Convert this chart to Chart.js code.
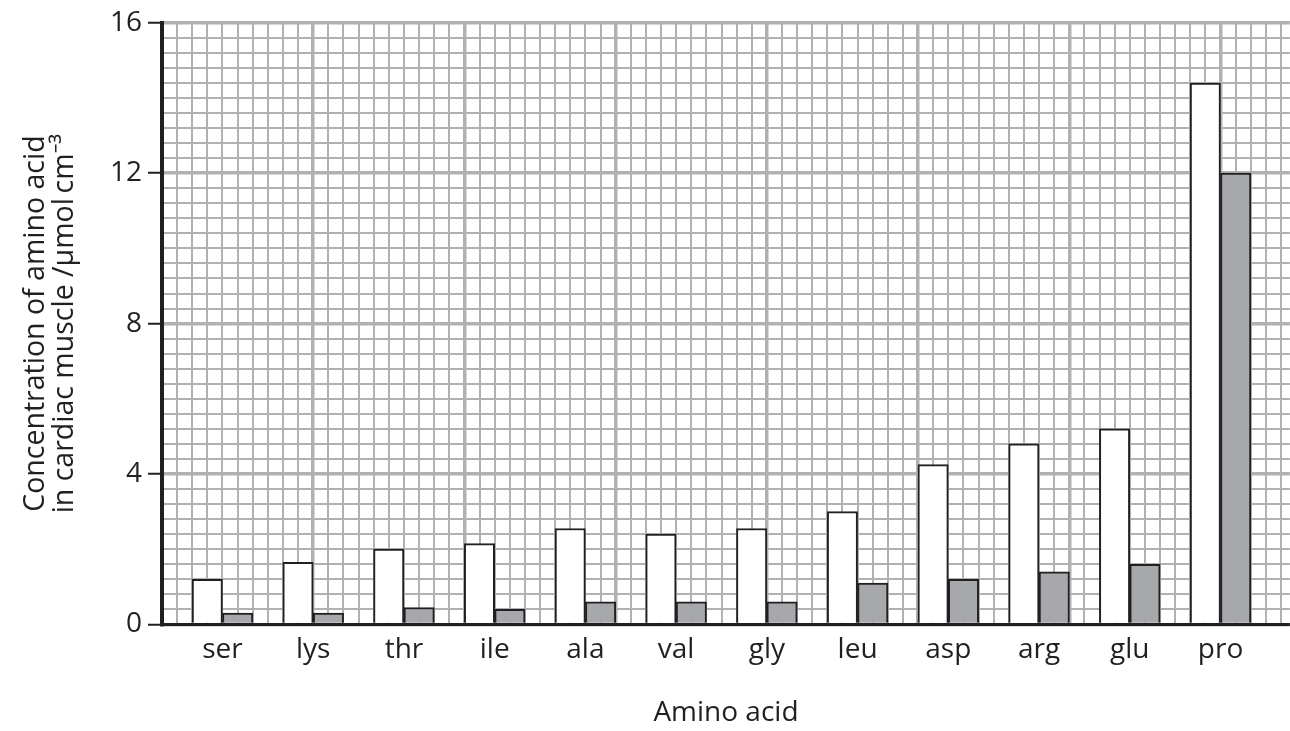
<!DOCTYPE html>
<html>
<head>
<meta charset="utf-8">
<title>Amino acid concentration in cardiac muscle</title>
<script src="https://cdn.jsdelivr.net/npm/chart.js@4/dist/chart.umd.min.js"></script>
<style>
  html, body { margin: 0; padding: 0; background: #ffffff; }
  #wrap { width: 1290px; height: 731px; position: relative; }
</style>
</head>
<body>
<div id="wrap"><canvas id="chart"></canvas></div>
<script>
// Amino acids along the x axis
const categories = ['ser', 'lys', 'thr', 'ile', 'ala', 'val', 'gly', 'leu', 'asp', 'arg', 'glu', 'pro'];

// Concentration / µmol cm⁻³ — open (white) bars
const whiteValues = [1.2, 1.65, 2.0, 2.15, 2.55, 2.4, 2.55, 3.0, 4.25, 4.8, 5.2, 14.4];
// Concentration / µmol cm⁻³ — shaded (grey) bars
const greyValues = [0.3, 0.3, 0.45, 0.4, 0.6, 0.6, 0.6, 1.1, 1.2, 1.4, 1.6, 12.0];

// Labelled values on the y axis
const yTickLabels = ['0', '4', '8', '12', '16'];

// Graph-paper settings: small squares per category step and per major square
const SQUARES_PER_CATEGORY = 6;
const SQUARES_PER_MAJOR = 10;
const Y_SQUARE = 0.4;

const INK = '#231f20';
const GRID = '#b1b1b1';
const FONT = "'Open Sans', 'Noto Sans', sans-serif";

function toPoints(values) {
  return values.map((v, i) => ({ x: i, y: v }));
}

// Redraw the x axis line so it sits above the bars
const axisOnTop = {
  id: 'axisOnTop',
  afterDatasetsDraw(chart) {
    const { ctx, chartArea } = chart;
    ctx.save();
    ctx.strokeStyle = INK;
    ctx.lineWidth = 3;
    ctx.beginPath();
    ctx.moveTo(chartArea.left - 2, chartArea.bottom);
    ctx.lineTo(chartArea.right, chartArea.bottom);
    ctx.stroke();
    ctx.restore();
  }
};

new Chart(document.getElementById('chart'), {
  type: 'bar',
  data: {
    datasets: [
      {
        label: 'white',
        data: toPoints(whiteValues),
        backgroundColor: '#ffffff',
        borderColor: INK,
        borderWidth: 2
      },
      {
        label: 'grey',
        data: toPoints(greyValues),
        backgroundColor: '#a7a8ab',
        borderColor: INK,
        borderWidth: 2
      }
    ]
  },
  options: {
    responsive: true,
    maintainAspectRatio: false,
    animation: false,
    events: [],
    layout: { padding: { top: 21, right: 0, bottom: 0, left: 0 } },
    plugins: {
      legend: { display: false },
      tooltip: { enabled: false }
    },
    datasets: {
      bar: { barThickness: 30.4 }
    },
    scales: {
      x: {
        type: 'linear',
        min: -4 / SQUARES_PER_CATEGORY,
        max: 11.765,
        offset: false,
        afterBuildTicks(scale) {
          const ticks = [];
          for (let k = 0; ; k++) {
            const v = scale.min + k / SQUARES_PER_CATEGORY;
            if (v > scale.max + 1e-9) break;
            ticks.push({ value: v });
          }
          scale.ticks = ticks;
        },
        afterFit(scale) { scale.height = 106.6; },
        grid: {
          offset: false,
          drawTicks: false,
          color: GRID,
          lineWidth: (ctx) => (ctx.index % SQUARES_PER_MAJOR === 0 ? 3.5 : 2)
        },
        border: { display: false },
        ticks: {
          autoSkip: false,
          maxRotation: 0,
          minRotation: 0,
          padding: 9,
          color: INK,
          font: { family: FONT, size: 28 },
          callback: (value) => {
            const r = Math.round(value);
            return Math.abs(value - r) < 1e-6 && categories[r] !== undefined ? categories[r] : '';
          }
        },
        title: {
          display: true,
          text: 'Amino acid',
          color: INK,
          font: { family: FONT, size: 28 },
          padding: { top: 0, bottom: 1 }
        }
      },
      y: {
        type: 'linear',
        min: 0,
        max: 16,
        afterBuildTicks(scale) {
          const ticks = [];
          const n = Math.round((scale.max - scale.min) / Y_SQUARE);
          for (let k = 0; k <= n; k++) ticks.push({ value: scale.min + k * Y_SQUARE });
          scale.ticks = ticks;
        },
        afterFit(scale) { scale.width = 162; },
        grid: {
          color: GRID,
          lineWidth: (ctx) => (ctx.index % SQUARES_PER_MAJOR === 0 ? 3.5 : 2),
          tickLength: 14,
          tickWidth: 2,
          tickColor: (ctx) => (ctx.index % SQUARES_PER_MAJOR === 0 ? INK : 'rgba(0,0,0,0)')
        },
        border: { display: true, color: INK, width: 4 },
        ticks: {
          autoSkip: false,
          padding: 6,
          color: INK,
          font: { family: FONT, size: 28 },
          callback: (value, index) =>
            index % SQUARES_PER_MAJOR === 0 ? yTickLabels[index / SQUARES_PER_MAJOR] : ''
        },
        title: {
          display: true,
          text: ['Concentration of amino acid', 'in cardiac muscle /\u00b5mol\u2009cm\u207b\u00b3'],
          color: INK,
          font: { family: FONT, size: 28.5, lineHeight: 1.0 },
          padding: { top: 22, bottom: 0 }
        }
      }
    }
  },
  plugins: [axisOnTop]
});
</script>
</body>
</html>
